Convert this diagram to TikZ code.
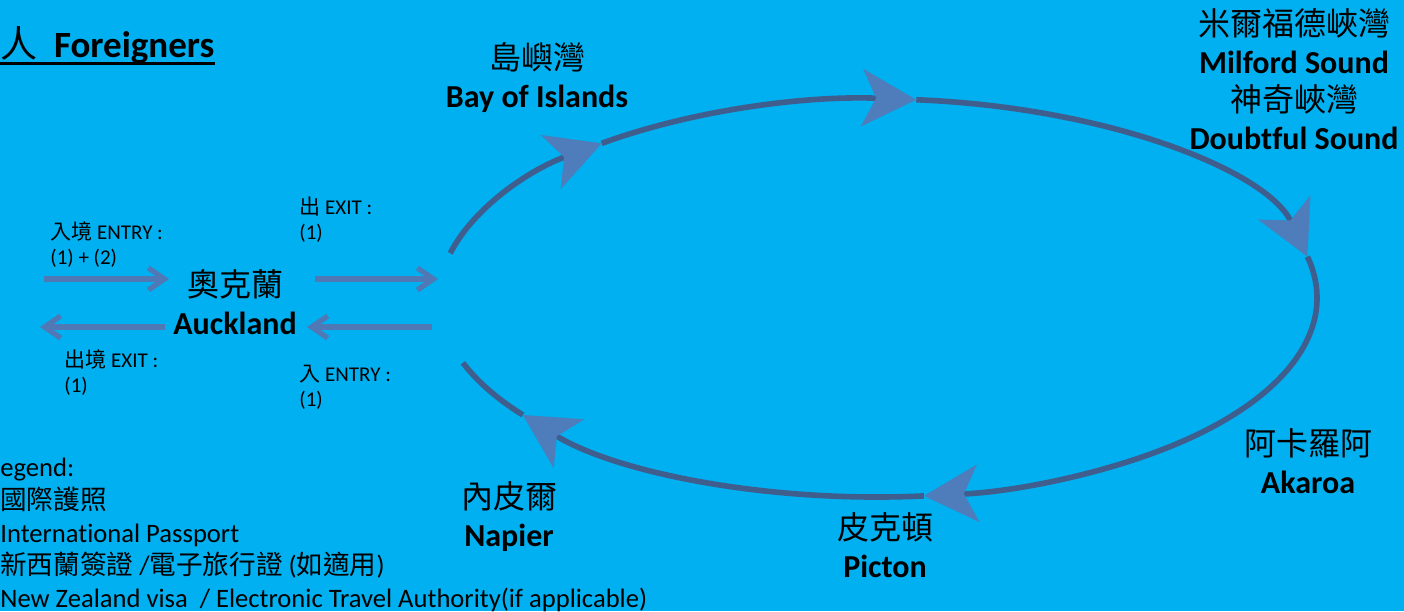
\documentclass[tikz,border=0pt]{standalone}
\usepackage{fontspec}
\setmainfont{Carlito}[Ligatures=NoCommon]
\newfontfamily\zhfont{Noto Sans CJK TC}
\usetikzlibrary{arrows.meta}
\usetikzlibrary{calc}
\definecolor{seablue}{HTML}{00B0F0}
\definecolor{routeline}{HTML}{3F5E8E}
\definecolor{routehead}{HTML}{4F7CBA}
\definecolor{flowblue}{HTML}{5078B4}
\tikzstyle{town} = [align=center, inner sep=0pt, font=\fontsize{16}{19}\selectfont]
\tikzstyle{note} = [align=left, anchor=north west, inner sep=0pt, font=\fontsize{10.5}{12.5}\selectfont]
\tikzstyle{legendtxt} = [align=left, anchor=north west, inner sep=0pt, font=\fontsize{13.3}{16.3}\selectfont]

\begin{document}
\begin{tikzpicture}[x=0.5pt, y=-0.5pt,
  route/.style={draw=routeline, line width=2.8pt},
  routearrow/.style={route, -{Stealth[length=27pt, width=28.5pt, inset=7pt, color=routehead, fill=routehead]}},
  flow/.style={draw=flowblue, line width=2.6pt, -{Straight Barb[length=8pt, width=11pt]}}]
\fill[seablue] (0,0) rectangle (1404,611);
\useasboundingbox (0,0) rectangle (1404,611);

% Define nodes
\node[anchor=base west, inner sep=0pt, font=\fontsize{18.5}{20}\selectfont] (title) at (0,57) {{\zhfont 人}\hspace{0.45em}\textbf{Foreigners}};
\draw[line width=1.2pt] (title.south west) -- (title.south east);

\node[town]                  (auckland)   at (235,302)  {{\zhfont 奧克蘭}\\\textbf{Auckland}};
\node[town]                  (bayislands) at (537,78)   {{\zhfont 島嶼灣}\\\textbf{Bay of Islands}};
\node[town]                  (milford)    at (1294,79)  {{\zhfont 米爾福德峽灣}\\\textbf{Milford Sound}\\{\zhfont 神奇峽灣}\\\textbf{Doubtful Sound}};
\node[town]                  (akaroa)     at (1308,461) {{\zhfont 阿卡羅阿}\\\textbf{Akaroa}};
\node[town]                  (picton)     at (885,545)  {{\zhfont 皮克頓}\\\textbf{Picton}};
\node[town]                  (napier)     at (509,517)  {{\zhfont 內皮爾}\\\textbf{Napier}};

\node[note]                  (entryin)    at (50,221)   {{\zhfont 入境} ENTRY :\\(1) + (2)};
\node[note]                  (exitloop)   at (299,196)  {{\zhfont 出} EXIT :\\(1)};
\node[note]                  (exitout)    at (64,349)   {{\zhfont 出境} EXIT :\\(1)};
\node[note]                  (entryloop)  at (299,365)  {{\zhfont 入} ENTRY :\\(1)};

\node[legendtxt]             (legend)     at (0,458)    {egend:\\{\zhfont 國際護照}\\International Passport\\{\zhfont 新西蘭簽證} /{\zhfont 電子旅行證} ({\zhfont 如適用})\\New Zealand visa\ \ / Electronic Travel Authority(if applicable)};

% Route points on the loop
\coordinate (hub) at (878,298);
\coordinate (r0) at ($(hub)+(193:439 and 199)$);
\coordinate (r1) at ($(hub)+(231:439 and 199)$);
\coordinate (r2) at ($(hub)+(275:439 and 199)$);
\coordinate (r3) at ($(hub)+(348:439 and 199)$);
\coordinate (r4) at ($(hub)+(444:439 and 199)$);
\coordinate (r5) at ($(hub)+(504:439 and 199)$);
\coordinate (inL)     at (44,279);
\coordinate (outL)    at (40,327);
\coordinate (loopin)  at (438,279);
\coordinate (loopout) at (432,327);

% Edges
\draw[flow, shorten >=2pt] (inL) -- (inL -| auckland.west);
\draw[flow, shorten <=9pt] (loopin -| auckland.east) -- (loopin);
\draw[flow, shorten >=5pt] (loopout) -- (loopout -| auckland.east);
\draw[flow, shorten <=4pt] (outL -| auckland.west) -- (outL);

\draw[routearrow] (r0) arc[start angle=193, end angle=231, x radius=439, y radius=199];
\draw[routearrow] (r1) arc[start angle=231, end angle=275, x radius=439, y radius=199];
\draw[routearrow] (r2) arc[start angle=275, end angle=348, x radius=439, y radius=199];
\draw[routearrow] (r3) arc[start angle=348, end angle=444, x radius=439, y radius=199];
\draw[routearrow] (r4) arc[start angle=444, end angle=504, x radius=439, y radius=199];
\draw[route]      (r5) arc[start angle=504, end angle=521, x radius=439, y radius=199];
\end{tikzpicture}
\end{document}
